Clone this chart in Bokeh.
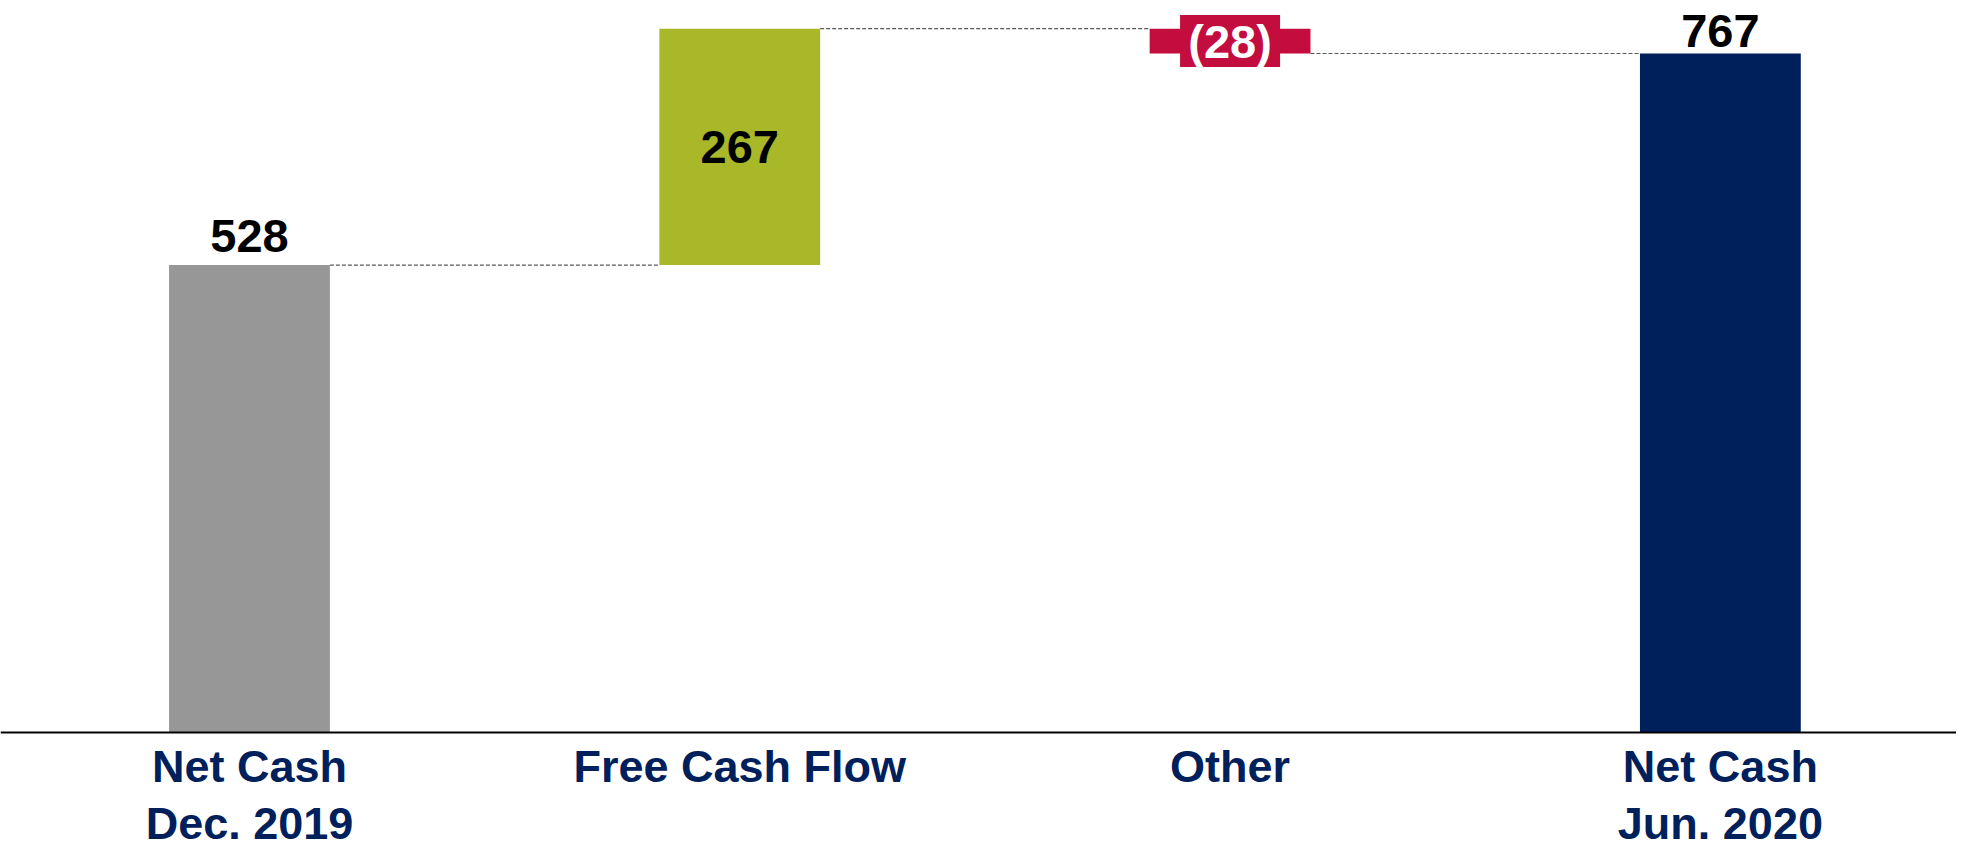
from bokeh.plotting import figure
from bokeh.models import Range1d, ColumnDataSource, Span
from bokeh.core.properties import value
from bokeh.embed import file_html
from bokeh.resources import INLINE

# ---- data ----
categories = ["Net Cash\nDec. 2019", "Free Cash Flow", "Other", "Net Cash\nJun. 2020"]
values = [528, 267, -28, 767]
kinds = ["total", "delta", "delta", "total"]
value_labels = ["528", "267", "(28)", "767"]
bar_colors = ["#979797", "#A8B828", "#C30D3E", "#00205C"]

# ---- waterfall geometry from data ----
xs = list(range(len(categories)))
bottoms, tops, levels = [], [], []
running = 0
for v, k in zip(values, kinds):
    if k == "total":
        b, t = 0, v
        running = v
    else:
        b, t = running, running + v
        running = running + v
    bottoms.append(min(b, t))
    tops.append(max(b, t))
    levels.append(running)

BAR_W = 0.328
FONT = value("Liberation Sans")
NAVY = "#00205C"

p = figure(width=1956, height=850, output_backend="svg", toolbar_location=None,
           x_range=Range1d(-0.5078, 3.4816), y_range=Range1d(-133.29, 826.84),
           min_border=0, background_fill_color="white", border_fill_color="white")
p.outline_line_color = None
p.xgrid.visible = False
p.ygrid.visible = False
p.xaxis.visible = False
p.yaxis.visible = False

src = ColumnDataSource(dict(x=xs, bottom=bottoms, top=tops, color=bar_colors))
p.vbar(x="x", width=BAR_W, bottom="bottom", top="top", fill_color="color",
       line_color=None, source=src)

# baseline (zero line)
p.add_layout(Span(location=0, dimension="width", line_color="black", line_width=2))

# connectors
cx0 = [x + BAR_W / 2 for x in xs[:-1]]
cx1 = [x - BAR_W / 2 for x in xs[1:]]
cy = levels[:-1]
p.segment(x0=cx0, y0=cy, x1=cx1, y1=cy, line_color="#5a5a5a", line_width=1.2,
          line_dash="4 2")

txt = dict(text_font=FONT, text_font_style="bold", text_font_size="47px",
           text_align="center")

# totals: above bar
p.text(x=[xs[0]], y=[tops[0]], text=[value_labels[0]],
       text_color="black", text_baseline="alphabetic", y_offset=-29, **txt)
p.text(x=[xs[3]], y=[tops[3]], text=[value_labels[3]],
       text_color="black", text_baseline="alphabetic", y_offset=-22, **txt)
# positive delta: inside bar
p.text(x=[xs[1]], y=[(bottoms[1] + tops[1]) / 2], text=[value_labels[1]],
       text_color="black", text_baseline="middle", **txt)
# negative delta: white label on red box
ymid = (bottoms[2] + tops[2]) / 2
p.rect(x=[xs[2]], y=[ymid], width=100, height=52, width_units="screen",
       height_units="screen", fill_color=bar_colors[2], line_color=None)
p.text(x=[xs[2]], y=[ymid], text=[value_labels[2]], text_color="white",
       text_baseline="middle", **txt)

# category labels below the zero line
p.text(x=xs, y=[0] * len(xs), text=categories, text_color=NAVY,
       text_font=FONT, text_font_style="bold", text_font_size="45px",
       text_align="center", text_baseline="top", y_offset=9,
       text_line_height=1.1)

open("out.html", "w").write(file_html(p, INLINE))
